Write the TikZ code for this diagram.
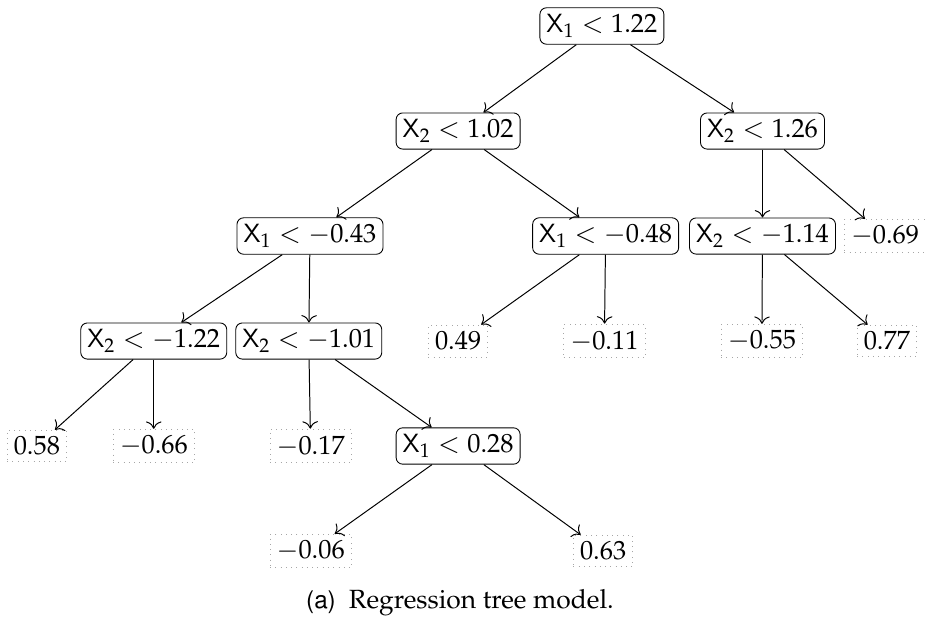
\documentclass[tikz,border=0pt]{standalone}
\usepackage[T1]{fontenc}
\usepackage{mathpazo}
\usepackage[scaled=0.92]{helvet}
\usepackage{tikz}
\usetikzlibrary{arrows.meta, positioning}

\begin{document}
\begin{tikzpicture}[
    every node/.style={font=\fontsize{12}{14}\selectfont},
    split/.style={draw, rounded corners=3pt, inner sep=3pt},
    leaf/.style={draw=gray!70, dotted, inner sep=3pt},
    edge/.style={-{To[scale=1.3]}, line width=0.45pt}
]

\def\lh{1.68}

\useasboundingbox (0,0.416) rectangle (14.8,-9.552);

% Split nodes
\node[split] (root) at (9.63, 0) {$\mathsf{X}_1 < 1.22$};
\node[split] (a) at (7.33, -\lh) {$\mathsf{X}_2 < 1.02$};
\node[split] (b) at (12.2, -\lh) {$\mathsf{X}_2 < 1.26$};
\node[split] (aa) at (4.96, -2*\lh) {$\mathsf{X}_1 < -0.43$};
\node[split] (ab) at (9.69, -2*\lh) {$\mathsf{X}_1 < -0.48$};
\node[split] (ba) at (12.2, -2*\lh) {$\mathsf{X}_2 < -1.14$};
\node[split] (aaa) at (2.46, -3*\lh) {$\mathsf{X}_2 < -1.22$};
\node[split] (aab) at (4.94, -3*\lh) {$\mathsf{X}_2 < -1.01$};
\node[split] (aabb) at (7.33, -4*\lh) {$\mathsf{X}_1 < 0.28$};

% Leaves
\node[leaf] (bb) at (14.16, -2*\lh) {$-0.69$};
\node[leaf] (aba) at (7.33, -3*\lh) {$0.49$};
\node[leaf] (abb) at (9.67, -3*\lh) {$-0.11$};
\node[leaf] (baa) at (12.19, -3*\lh) {$-0.55$};
\node[leaf] (bab) at (14.19, -3*\lh) {$0.77$};
\node[leaf] (aaaa) at (0.59, -4*\lh) {$0.58$};
\node[leaf] (aaab) at (2.46, -4*\lh) {$-0.66$};
\node[leaf] (aaba) at (4.97, -4*\lh) {$-0.17$};
\node[leaf] (aabba) at (4.97, -5*\lh) {$-0.06$};
\node[leaf] (aabbb) at (9.65, -5*\lh) {$0.63$};

% Edges
\draw[edge] (root) -- (a);
\draw[edge] (root) -- (b);
\draw[edge] (a) -- (aa);
\draw[edge] (a) -- (ab);
\draw[edge] (b) -- (ba);
\draw[edge] (b) -- (bb);
\draw[edge] (aa) -- (aaa);
\draw[edge] (aa) -- (aab);
\draw[edge] (ab) -- (aba);
\draw[edge] (ab) -- (abb);
\draw[edge] (ba) -- (baa);
\draw[edge] (ba) -- (bab);
\draw[edge] (aaa) -- (aaaa);
\draw[edge] (aaa) -- (aaab);
\draw[edge] (aab) -- (aaba);
\draw[edge] (aab) -- (aabb);
\draw[edge] (aabb) -- (aabba);
\draw[edge] (aabb) -- (aabbb);

% Caption
\node (caption) at (7.36, -9.23) {{\sffamily (a)}\hspace{0.5em}Regression tree model.};

\end{tikzpicture}
\end{document}
